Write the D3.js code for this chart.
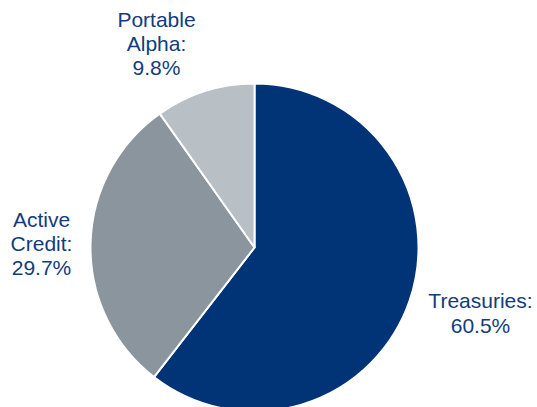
<!DOCTYPE html>
<html>
<head>
<meta charset="utf-8">
<script src="https://cdn.jsdelivr.net/npm/d3@7"></script>
<style>
  html, body { margin: 0; padding: 0; background: #ffffff; }
  svg { display: block; }
</style>
</head>
<body>
<svg id="chart" width="537" height="407"></svg>
<script>
const categories = ["Treasuries", "Active Credit", "Portable Alpha"];
const values = [60.5, 29.7, 9.8];
const valueLabels = ["60.5%", "29.7%", "9.8%"];
const labelLines = [["Treasuries:"], ["Active", "Credit:"], ["Portable", "Alpha:"]];
const colors = ["#003477", "#8b959d", "#b8bfc5"];

const svg = d3.select("#chart");
const cx = 254.5, cy = 247.5, r = 164;

const pie = d3.pie().sort(null).value(d => d.value);
const arcs = pie(categories.map((c, i) => ({ name: c, value: values[i], i })));
const arc = d3.arc().innerRadius(0).outerRadius(r);

const g = svg.append("g").attr("transform", `translate(${cx},${cy})`);
g.selectAll("path")
  .data(arcs)
  .enter().append("path")
  .attr("d", arc)
  .attr("fill", d => colors[d.data.i])
  .attr("stroke", "#ffffff")
  .attr("stroke-width", 2)
  .attr("stroke-linejoin", "round");

// label anchor positions (centre x, first baseline y)
const labelPos = [
  { x: 480.5, y: 307.5, lh: 25.5 },
  { x: 41.5, y: 226.5, lh: 24 },
  { x: 156.5, y: 27, lh: 24 }
];

categories.forEach((c, i) => {
  const lines = labelLines[i].concat([valueLabels[i]]);
  const t = svg.append("text")
    .attr("text-anchor", "middle")
    .attr("font-family", "Arial, 'Liberation Sans', Helvetica, sans-serif")
    .attr("font-size", 21)
    .attr("fill", "#113c7e");
  lines.forEach((ln, k) => {
    t.append("tspan")
      .attr("x", labelPos[i].x)
      .attr("y", labelPos[i].y + k * labelPos[i].lh)
      .text(ln);
  });
});
</script>
</body>
</html>
